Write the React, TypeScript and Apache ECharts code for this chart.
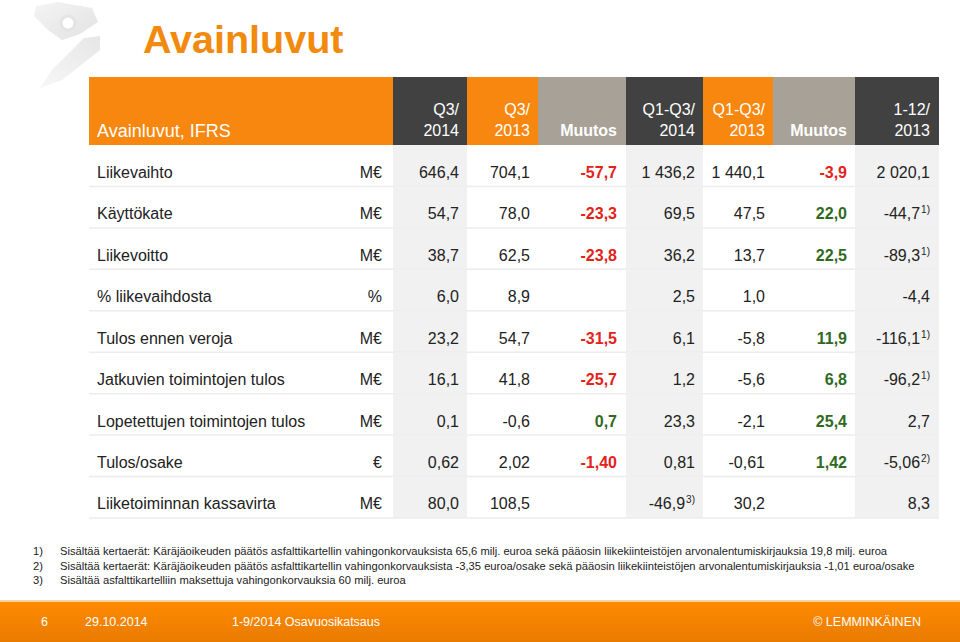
import React, { useEffect, useRef } from "react";
import * as echarts from "echarts";

// ---------------- DATA ----------------
const pageTitle = "Avainluvut";
const tableTitle = "Avainluvut, IFRS";
const columnHeaders = ["Q3/\n2014", "Q3/\n2013", "Muutos", "Q1-Q3/\n2014", "Q1-Q3/\n2013", "Muutos", "1-12/\n2013"];
const rowLabels = [
  "Liikevaihto",
  "Käyttökate",
  "Liikevoitto",
  "% liikevaihdosta",
  "Tulos ennen veroja",
  "Jatkuvien toimintojen tulos",
  "Lopetettujen toimintojen tulos",
  "Tulos/osake",
  "Liiketoiminnan kassavirta",
];
const units = ["M€", "M€", "M€", "%", "M€", "M€", "M€", "€", "M€"];
const decimals = [1, 1, 1, 1, 1, 1, 1, 2, 1];
const q3_2014 = [646.4, 54.7, 38.7, 6.0, 23.2, 16.1, 0.1, 0.62, 80.0];
const q3_2013 = [704.1, 78.0, 62.5, 8.9, 54.7, 41.8, -0.6, 2.02, 108.5];
const changeQ3 = [-57.7, -23.3, -23.8, null, -31.5, -25.7, 0.7, -1.4, null];
const q1q3_2014 = [1436.2, 69.5, 36.2, 2.5, 6.1, 1.2, 23.3, 0.81, -46.9];
const q1q3_2013 = [1440.1, 47.5, 13.7, 1.0, -5.8, -5.6, -2.1, -0.61, 30.2];
const changeQ1Q3 = [-3.9, 22.0, 22.5, null, 11.9, 6.8, 25.4, 1.42, null];
const fy2013 = [2020.1, -44.7, -89.3, -4.4, -116.1, -96.2, 2.7, -5.06, 8.3];
const notesQ1Q3_2014 = ["", "", "", "", "", "", "", "", "3)"];
const notesFy2013 = ["", "1)", "1)", "", "1)", "1)", "", "2)", ""];
const footnoteMarks = ["1)", "2)", "3)"];
const footnotes = [
  "Sisältää kertaerät: Käräjäoikeuden päätös asfalttikartellin vahingonkorvauksista 65,6 milj. euroa sekä pääosin liikekiinteistöjen arvonalentumiskirjauksia 19,8 milj. euroa",
  "Sisältää kertaerät: Käräjäoikeuden päätös asfalttikartellin vahingonkorvauksista -3,35 euroa/osake sekä pääosin liikekiinteistöjen arvonalentumiskirjauksia -1,01 euroa/osake",
  "Sisältää asfalttikartelliin maksettuja vahingonkorvauksia 60 milj. euroa",
];
const footerItems = ["6", "29.10.2014", "1-9/2014 Osavuosikatsaus"];
const footerBrand = "© LEMMINKÄINEN";

// ---------------- LAYOUT / STYLE ----------------
const FONT = '"Liberation Sans", Arial, Helvetica, sans-serif';
const ORANGE = "#f7870f";
const DARK = "#414141";
const GREY = "#a8a198";
const COL_EDGES = [393, 467, 538, 626, 703, 773, 855, 939];
const COL_RIGHT = [459, 530, 617, 695, 765, 847, 930];
const COL_BG = [DARK, ORANGE, GREY, DARK, ORANGE, GREY, DARK];
const SHADED_COLS = [0, 3, 6];
const CHANGE_COLS = [2, 5];
const TABLE_LEFT = 89;
const LABEL_X = 97;
const UNIT_RIGHT = 382;
const HEADER_TOP = 77;
const HEADER_BOTTOM = 145;
const BODY_BOTTOM = 518;

function fmt(v: number | null, d: number): string {
  if (v === null || v === undefined) return "";
  const s = Math.abs(v).toFixed(d);
  const [i, f] = s.split(".");
  const int = i.replace(/\B(?=(\d{3})+(?!\d))/g, " ");
  return (v < 0 ? "-" : "") + int + (f !== undefined ? "," + f : "");
}

const columns: (number | null)[][] = [q3_2014, q3_2013, changeQ3, q1q3_2014, q1q3_2013, changeQ1Q3, fy2013];
const columnNotes: (string[] | null)[] = [null, null, null, notesQ1Q3_2014, null, null, notesFy2013];

export default function App() {
  const ref = useRef<HTMLDivElement>(null);
  useEffect(() => {
    if (!ref.current) return;
    const chart = echarts.init(ref.current, undefined, { renderer: "svg" });

    const graphics: any[] = [];
    // logo (faded)
    const logoFill = new echarts.graphic.LinearGradient(0, 0, 1, 1, [
      { offset: 0, color: "#f4f4f4" },
      { offset: 1, color: "#e2e2e2" },
    ]);
    graphics.push({
      type: "polygon",
      shape: { points: [[36, 6], [58, 2], [92, 8], [98, 22], [80, 34], [62, 40], [48, 30], [34, 16]] },
      style: { fill: logoFill },
      z: 0,
    });
    graphics.push({ type: "circle", shape: { cx: 68, cy: 23, r: 7 }, style: { fill: "#ffffff", stroke: "#e4e4e4", lineWidth: 3 }, z: 1 });
    graphics.push({
      type: "polygon",
      shape: { points: [[84, 38], [100, 36], [100, 50], [62, 80], [40, 88], [52, 70]] },
      style: {
        fill: new echarts.graphic.LinearGradient(1, 0, 0, 1, [
          { offset: 0, color: "#e6e6e6" },
          { offset: 1, color: "#f7f7f7" },
        ]),
      },
      z: 0,
    });
    // title
    graphics.push({
      type: "text",
      x: 143,
      y: 39,
      style: { text: pageTitle, fill: "#f28a0e", font: `bold 39.5px ${FONT}`, verticalAlign: "middle" },
    });
    // header band
    graphics.push({ type: "rect", shape: { x: TABLE_LEFT, y: HEADER_TOP, width: COL_EDGES[0] - TABLE_LEFT, height: HEADER_BOTTOM - HEADER_TOP }, style: { fill: ORANGE } });
    columnHeaders.forEach((h, c) => {
      graphics.push({
        type: "rect",
        shape: { x: COL_EDGES[c], y: HEADER_TOP, width: COL_EDGES[c + 1] - COL_EDGES[c], height: HEADER_BOTTOM - HEADER_TOP },
        style: { fill: COL_BG[c] },
      });
      graphics.push({
        type: "text",
        x: COL_RIGHT[c],
        y: 141,
        style: {
          text: h,
          fill: "#ffffff",
          font: `${CHANGE_COLS.includes(c) ? "bold " : ""}16px ${FONT}`,
          align: "right",
          verticalAlign: "bottom",
          lineHeight: 21,
        },
      });
    });
    graphics.push({
      type: "text",
      x: LABEL_X,
      y: 131,
      style: { text: tableTitle, fill: "#ffffff", font: `18px ${FONT}`, verticalAlign: "middle" },
    });
    // footnotes
    footnotes.forEach((t, i) => {
      graphics.push({ type: "text", x: 33, y: 551 + i * 14.5, style: { text: footnoteMarks[i], fill: "#222", font: `11.2px ${FONT}`, verticalAlign: "middle" } });
      graphics.push({ type: "text", x: 60, y: 551 + i * 14.5, style: { text: t, fill: "#222", font: `11.2px ${FONT}`, verticalAlign: "middle" } });
    });
    // footer
    graphics.push({ type: "rect", shape: { x: 0, y: 600, width: 960, height: 2 }, style: { fill: "#fbd3a0" } });
    graphics.push({
      type: "rect",
      shape: { x: 0, y: 602, width: 960, height: 40 },
      style: {
        fill: new echarts.graphic.LinearGradient(0, 0, 0, 1, [
          { offset: 0, color: "#ff8a00" },
          { offset: 1, color: "#e97b00" },
        ]),
      },
    });
    const footerX = [41, 85, 232];
    footerItems.forEach((t, i) => {
      graphics.push({ type: "text", x: footerX[i], y: 622, style: { text: t, fill: "#ffffff", font: `12.5px ${FONT}`, verticalAlign: "middle" } });
    });
    graphics.push({ type: "text", x: 921, y: 622, style: { text: footerBrand, fill: "#ffffff", font: `12.5px ${FONT}`, align: "right", verticalAlign: "middle" } });

    const renderItem = (params: any, api: any) => {
      const r = api.value(0);
      const [, yc] = api.coord([0, r]);
      const h = api.size([0, 1])[1];
      const top = yc - h / 2;
      const ty = top + h * 0.66;
      const px = (x: number) => api.coord([x, r])[0];
      const children: any[] = [];
      SHADED_COLS.forEach((c) => {
        children.push({
          type: "rect",
          shape: { x: px(COL_EDGES[c]), y: top, width: px(COL_EDGES[c + 1]) - px(COL_EDGES[c]), height: h },
          style: { fill: "#f1f1f1" },
        });
      });
      children.push({
        type: "line",
        shape: { x1: px(TABLE_LEFT), y1: top + h, x2: px(COL_EDGES[7]), y2: top + h },
        style: { stroke: "#ececec", lineWidth: 1.5 },
      });
      children.push({ type: "text", x: px(LABEL_X), y: ty, style: { text: rowLabels[r], fill: "#222", font: `16px ${FONT}`, verticalAlign: "middle" } });
      children.push({ type: "text", x: px(UNIT_RIGHT), y: ty, style: { text: units[r], fill: "#222", font: `16px ${FONT}`, align: "right", verticalAlign: "middle" } });
      columns.forEach((col, c) => {
        const v = col[r];
        if (v === null) return;
        const isChange = CHANGE_COLS.includes(c);
        const color = isChange ? (v < 0 ? "#e2231a" : "#2f6a1f") : "#222";
        const note = columnNotes[c] ? columnNotes[c]![r] : "";
        const txt = `{v|${fmt(v, decimals[r])}}` + (note ? `{s|${note}}` : "");
        children.push({
          type: "text",
          x: px(COL_RIGHT[c]),
          y: ty,
          style: {
            text: txt,
            align: "right",
            verticalAlign: "middle",
            rich: {
              v: { fill: color, fontFamily: FONT, fontSize: 16, fontWeight: isChange ? "bold" : "normal", lineHeight: 20 },
              s: { fill: color, fontFamily: FONT, fontSize: 10, lineHeight: 20, verticalAlign: "top", padding: [1, 0, 0, 1] },
            },
          },
        });
      });
      return { type: "group", children };
    };

    chart.setOption({
      animation: false,
      graphic: graphics,
      grid: { left: 0, right: 0, top: HEADER_BOTTOM, bottom: 642 - BODY_BOTTOM },
      xAxis: { type: "value", min: 0, max: 960, show: false },
      yAxis: { type: "category", data: rowLabels, inverse: true, show: false },
      series: [
        {
          type: "custom",
          renderItem,
          data: rowLabels.map((_, i) => [i]),
          encode: { y: 0 },
          z: 1,
        },
      ],
    });
    return () => chart.dispose();
  }, []);

  return <div ref={ref} style={{ width: 960, height: 642, position: "absolute", left: 0, top: 0, background: "#ffffff" }} />;
}
